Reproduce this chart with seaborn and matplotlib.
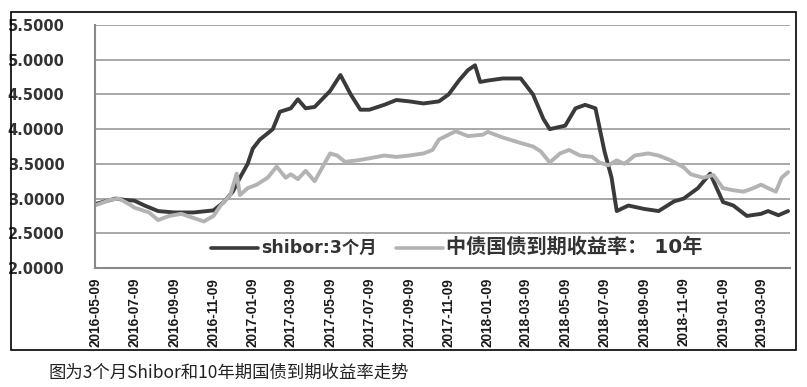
import pandas as pd
import numpy as np
import matplotlib.pyplot as plt
import matplotlib.patches as patches
import seaborn as sns

# Values (approximate)
shibor_dates = [
    "2016-05-09", "2016-05-25", "2016-06-10", "2016-06-25", "2016-07-09", "2016-07-25",
    "2016-08-15", "2016-09-09", "2016-10-09", "2016-11-09", "2016-11-25", "2016-12-09",
    "2016-12-20", "2017-01-01", "2017-01-09", "2017-01-20", "2017-02-09", "2017-02-20",
    "2017-03-09", "2017-03-20", "2017-04-01", "2017-04-15", "2017-05-09", "2017-05-25",
    "2017-06-10", "2017-06-25", "2017-07-09", "2017-08-01", "2017-08-20", "2017-09-09",
    "2017-10-01", "2017-10-25", "2017-11-09", "2017-11-25", "2017-12-09", "2017-12-20",
    "2017-12-28", "2018-01-09", "2018-02-01", "2018-03-01", "2018-03-20", "2018-04-05",
    "2018-04-15", "2018-05-09", "2018-05-25", "2018-06-09", "2018-06-25", "2018-07-09",
    "2018-07-20", "2018-07-28", "2018-08-15", "2018-09-09", "2018-10-01", "2018-10-25",
    "2018-11-09", "2018-12-01", "2018-12-20", "2019-01-09", "2019-01-25", "2019-02-15",
    "2019-03-09", "2019-03-20", "2019-04-05", "2019-04-20",
]
shibor_3m = [
    2.92, 2.96, 3.00, 2.98, 2.97, 2.90,
    2.82, 2.80, 2.80, 2.83, 2.95, 3.10,
    3.30, 3.50, 3.72, 3.85, 4.00, 4.25,
    4.30, 4.43, 4.30, 4.32, 4.55, 4.78,
    4.50, 4.28, 4.28, 4.35, 4.42, 4.40,
    4.37, 4.40, 4.50, 4.70, 4.85, 4.92,
    4.68, 4.70, 4.73, 4.73, 4.50, 4.15,
    4.00, 4.05, 4.30, 4.35, 4.30, 3.68,
    3.30, 2.82, 2.90, 2.85, 2.82, 2.96,
    3.00, 3.15, 3.36, 2.95, 2.90, 2.75,
    2.78, 2.82, 2.76, 2.82,
]

bond_dates = [
    "2016-05-09", "2016-06-01", "2016-06-15", "2016-07-01", "2016-07-09", "2016-08-01",
    "2016-08-15", "2016-09-01", "2016-09-20", "2016-10-09", "2016-10-25", "2016-11-09",
    "2016-11-20", "2016-12-05", "2016-12-15", "2016-12-20", "2017-01-01", "2017-01-15",
    "2017-02-01", "2017-02-15", "2017-03-01", "2017-03-09", "2017-03-20", "2017-04-01",
    "2017-04-15", "2017-05-09", "2017-05-20", "2017-06-01", "2017-06-20", "2017-07-09",
    "2017-08-01", "2017-08-20", "2017-09-09", "2017-10-01", "2017-10-15", "2017-10-25",
    "2017-11-09", "2017-11-20", "2017-12-09", "2018-01-01", "2018-01-09", "2018-02-01",
    "2018-03-01", "2018-03-20", "2018-04-01", "2018-04-15", "2018-05-01", "2018-05-15",
    "2018-06-01", "2018-06-20", "2018-07-01", "2018-07-15", "2018-07-28", "2018-08-09",
    "2018-08-25", "2018-09-15", "2018-10-01", "2018-10-20", "2018-11-09", "2018-11-20",
    "2018-12-09", "2018-12-25", "2019-01-09", "2019-01-25", "2019-02-10", "2019-02-25",
    "2019-03-09", "2019-03-20", "2019-04-01", "2019-04-10", "2019-04-20",
]
bond_10y = [
    2.90, 2.98, 3.00, 2.92, 2.87, 2.80,
    2.69, 2.75, 2.78, 2.72, 2.67, 2.75,
    2.90, 3.05, 3.36, 3.05, 3.15, 3.20,
    3.30, 3.46, 3.30, 3.35, 3.28, 3.40,
    3.25, 3.65, 3.62, 3.53, 3.55, 3.58,
    3.62, 3.60, 3.62, 3.65, 3.70, 3.85,
    3.92, 3.97, 3.90, 3.92, 3.96, 3.88,
    3.80, 3.75, 3.68, 3.52, 3.65, 3.70,
    3.62, 3.60, 3.52, 3.48, 3.55, 3.50,
    3.62, 3.65, 3.62, 3.55, 3.45, 3.35,
    3.30, 3.34, 3.15, 3.12, 3.10, 3.15,
    3.20, 3.15, 3.10, 3.30, 3.38,
]

tick_dates = [
    "2016-05-09", "2016-07-09", "2016-09-09", "2016-11-09", "2017-01-09", "2017-03-09",
    "2017-05-09", "2017-07-09", "2017-09-09", "2017-11-09", "2018-01-09", "2018-03-09",
    "2018-05-09", "2018-07-09", "2018-09-09", "2018-11-09", "2019-01-09", "2019-03-09",
]
y_ticks = [2.0, 2.5, 3.0, 3.5, 4.0, 4.5, 5.0, 5.5]

label_shibor = "shibor:3个月"
label_bond = "中债国债到期收益率： 10年"
caption = "图为3个月Shibor和10年期国债到期收益率走势"

df = pd.concat([
    pd.DataFrame({"date": pd.to_datetime(shibor_dates), "rate": shibor_3m, "series": label_shibor}),
    pd.DataFrame({"date": pd.to_datetime(bond_dates), "rate": bond_10y, "series": label_bond}),
])

sns.set_style("white")
plt.rcParams["font.family"] = ["DejaVu Sans", "Noto Sans CJK SC"]

fig = plt.figure(figsize=(8.07, 3.87), dpi=100)
ax = fig.add_axes([95 / 807, 1 - 268 / 387, (790 - 95) / 807, (268 - 25) / 387])

palette = {label_shibor: "#3a3a3a", label_bond: "#b3b3b3"}
sns.lineplot(data=df, x="date", y="rate", hue="series", palette=palette,
             linewidth=2.8, ax=ax, legend=False)

ax.set_ylim(2.0, 5.5)
ax.set_xlim(pd.Timestamp("2016-05-09"), pd.Timestamp("2019-04-23"))
ax.set_yticks(y_ticks)
ax.set_yticklabels([f"{v:.4f}" for v in y_ticks], fontsize=10.5, fontweight="bold", color="#333333")
ax.set_xticks(pd.to_datetime(tick_dates))
ax.set_xticklabels(tick_dates, rotation=90)
for lbl in ax.get_xticklabels():
    lbl.set_fontfamily("Liberation Sans")
    lbl.set_fontweight("bold")
    lbl.set_fontsize(9.8)
    lbl.set_color("#1a1a1a")
ax.tick_params(axis="y", length=0, pad=22)
ax.tick_params(axis="x", length=4, width=1.2, color="#888888", pad=3, direction="out")
ax.set_xlabel("")
ax.set_ylabel("")

ax.grid(axis="y", color="#9a9a9a", linewidth=1.2)
ax.grid(axis="x", visible=False)
ax.set_axisbelow(True)
for side in ["top", "right"]:
    ax.spines[side].set_visible(False)
for side in ["left", "bottom"]:
    ax.spines[side].set_color("#8a8a8a")
    ax.spines[side].set_linewidth(1.5)

handles = [plt.Line2D([], [], color=palette[label_shibor], linewidth=2.6),
           plt.Line2D([], [], color=palette[label_bond], linewidth=2.6)]
leg = ax.legend(handles, [label_shibor, label_bond], ncol=2, frameon=False,
                loc="center", bbox_to_anchor=(0.52, 0.086), handlelength=3.4,
                handletextpad=0.2, columnspacing=1.4, borderaxespad=0)
leg.get_texts()[0].set_fontsize(12.5)
leg.get_texts()[0].set_fontweight("bold")
leg.get_texts()[1].set_fontsize(14.5)
leg.get_texts()[1].set_fontweight("bold")
for t in leg.get_texts():
    t.set_color("#333333")

# outer frame and caption
fig.patches.append(patches.Rectangle((11 / 807, 1 - 350 / 387), (796 - 11) / 807, (350 - 12) / 387,
                                     transform=fig.transFigure, fill=False,
                                     edgecolor="black", linewidth=1.2))
fig.text(48 / 807, 1 - 373 / 387, caption, fontsize=12.5, va="center", ha="left",
         family=["Noto Sans CJK SC", "DejaVu Sans"], color="#222222")

fig.savefig("out.png", dpi=100)
